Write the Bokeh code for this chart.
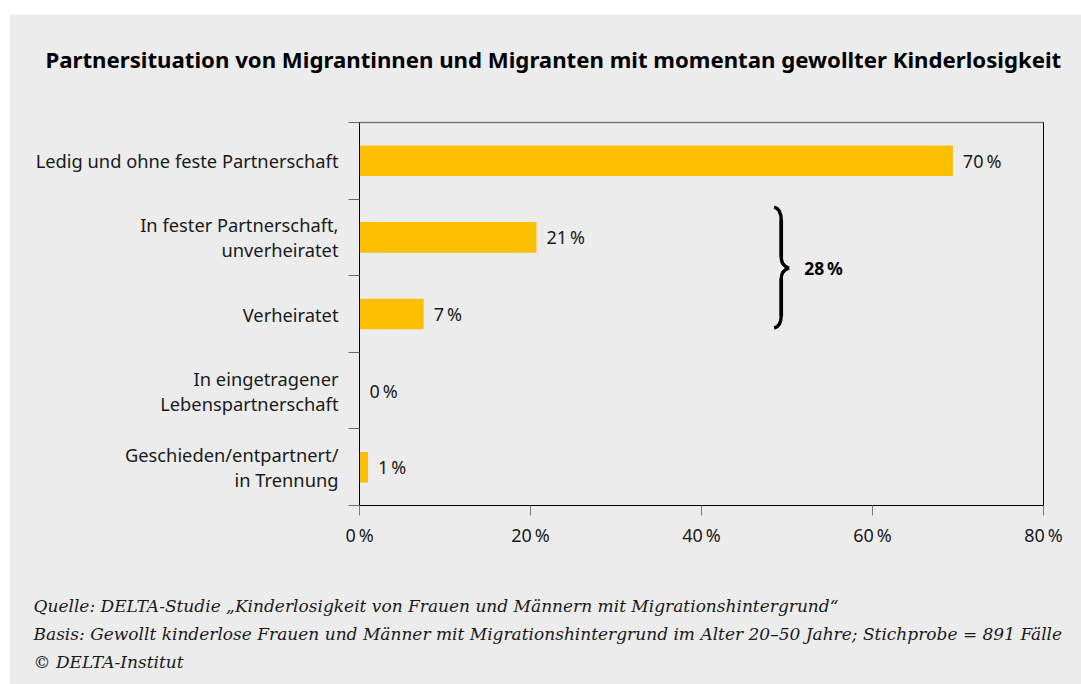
from bokeh.plotting import figure
from bokeh.models import (ColumnDataSource, Range1d, FixedTicker, LinearAxis,
                          LabelSet, Label, Spacer, Title)
from bokeh.layouts import column, row
from bokeh.core.properties import value
from bokeh.embed import file_html
from bokeh.resources import INLINE

# ---------------- data ----------------
categories = [
    "Ledig und ohne feste Partnerschaft",
    "In fester Partnerschaft,\nunverheiratet",
    "Verheiratet",
    "In eingetragener\nLebenspartnerschaft",
    "Geschieden/entpartnert/\nin Trennung",
]
values = [69.4, 20.7, 7.5, 0.0, 1.0]
value_labels = ["70\u202f%", "21\u202f%", "7\u202f%", "0\u202f%", "1\u202f%"]
x_ticks = [0, 20, 40, 60, 80]
x_tick_labels = ["0\u202f%", "20\u202f%", "40\u202f%", "60\u202f%", "80\u202f%"]
group_rows = [1, 2]          # rows joined by the brace
group_label = "28\u202f%"
title_text = "Partnersituation von Migrantinnen und Migranten mit momentan gewollter Kinderlosigkeit"
footer_lines = [
    "Quelle: DELTA-Studie \u201eKinderlosigkeit von Frauen und M\u00e4nnern mit Migrationshintergrund\u201c",
    "Basis: Gewollt kinderlose Frauen und M\u00e4nner mit Migrationshintergrund im Alter 20\u201350 Jahre; Stichprobe = 891 F\u00e4lle",
    "\u00a9 DELTA-Institut",
]

# ---------------- style ----------------
BG = "#ececec"
BAR = "#fbbe00"
TXT = "#1a1a1a"
SANS = "Noto Sans"
SERIF = "DejaVu Serif"

n = len(categories)
rows = [i + 0.5 for i in range(n)]
bounds = list(range(n + 1))
src = ColumnDataSource(dict(y=rows, v=values, vl=value_labels))

W, H = 1072, 670
p = figure(width=W, height=H, output_backend="svg", toolbar_location=None,
           x_range=Range1d(0, 80), y_range=Range1d(n, 0),
           min_border_left=350, min_border_right=38,
           min_border_top=108, min_border_bottom=179)
p.background_fill_color = BG
p.border_fill_color = BG
p.outline_line_color = None
p.grid.visible = False

# bottom axis
xa = p.xaxis[0]
xa.ticker = FixedTicker(ticks=x_ticks)
xa.major_label_overrides = {t: l for t, l in zip(x_ticks, x_tick_labels)}
xa.major_tick_out = 10
xa.major_tick_in = 0
xa.minor_tick_line_color = None
xa.major_tick_line_color = "#7a7a7a"
xa.axis_line_color = "black"
xa.major_label_text_font = SANS
xa.major_label_text_font_size = "18px"
xa.major_label_text_color = TXT
xa.major_label_standoff = 7

# left axis: labels at row centres, ticks at row boundaries (minor ticks)
ya = p.yaxis[0]
ya.ticker = FixedTicker(ticks=rows, minor_ticks=bounds)
ya.major_label_overrides = {r: c for r, c in zip(rows, categories)}
ya.major_tick_line_color = None
ya.major_tick_out = 0
ya.major_tick_in = 0
ya.minor_tick_out = 11
ya.minor_tick_in = 0
ya.minor_tick_line_color = "#6a6a6a"
ya.axis_line_color = "black"
ya.major_label_standoff = 10
ya.major_label_text_font = SANS
ya.major_label_text_font_size = "18.3px"
ya.major_label_text_color = TXT
ya.major_label_text_line_height = 1.0

# top (gray) frame line; an invisible minor tick reserves room under the title
top = LinearAxis(ticker=FixedTicker(ticks=[], minor_ticks=[40]),
                 major_label_text_font_size="0px",
                 major_tick_line_color=None, minor_tick_line_color=BG,
                 major_tick_out=0, minor_tick_out=46, minor_tick_in=-4,
                 axis_line_color="#777777", axis_line_width=1.5)
p.add_layout(top, "above")
right = LinearAxis(ticker=FixedTicker(ticks=[]), major_label_text_font_size="0px",
                   major_tick_line_color=None, minor_tick_line_color=None,
                   axis_line_color="black")
p.add_layout(right, "right")

# bars
p.hbar(y="y", left=0, right="v", height=0.4, source=src, color=BAR, line_color=None)

# value labels
p.add_layout(LabelSet(x="v", y="y", text="vl", source=src, x_offset=10,
                      text_align="left", text_baseline="middle",
                      text_font=value(SANS), text_font_size="18px", text_color=TXT))

# brace for grouped rows
px_x = 80 / 684.0
px_y = n / 383.0
bx0 = 48.5                      # brace left (data x)
yc = sum(rows[r] for r in group_rows) / len(group_rows) - 0.1
def X(dpx):
    return bx0 + dpx * px_x
def Y(dpy):
    return yc + dpy * px_y
brace = dict(line_color="black", line_width=3.4)
p.bezier(x0=[X(0), X(7), X(15), X(7)], y0=[Y(-61), Y(-11), Y(0), Y(48)],
         x1=[X(7), X(15), X(7), X(0)], y1=[Y(-48), Y(0), Y(11), Y(60)],
         cx0=[X(4), X(7), X(11), X(7)], cy0=[Y(-60), Y(-4), Y(1), Y(56)],
         cx1=[X(7), X(11), X(7), X(4)], cy1=[Y(-56), Y(-1), Y(4), Y(59)], **brace)
p.segment(x0=[X(7), X(7)], y0=[Y(-48), Y(11)], x1=[X(7), X(7)], y1=[Y(-11), Y(48)],
          line_color="black", line_width=3.8)
p.add_layout(Label(x=X(15), y=yc, text=group_label, x_offset=15,
                   text_align="left", text_baseline="middle",
                   text_font=SANS, text_font_size="17.5px", text_font_style="bold",
                   text_color="black"))

# title (above)
p.add_layout(Title(text=title_text, align="left", offset=-314, standoff=0,
                   vertical_align="top",
                   text_font=SANS, text_font_size="22.2px", text_font_style="bold",
                   text_color="black"), "above")

# gap below the x axis (invisible minor tick), then footer lines
gap = LinearAxis(ticker=FixedTicker(ticks=[], minor_ticks=[40]),
                 major_label_text_font_size="0px",
                 major_tick_line_color=None, minor_tick_line_color=BG,
                 major_tick_out=0, minor_tick_out=44, minor_tick_in=0,
                 axis_line_color=None)
p.add_layout(gap, "below")
for i, line in enumerate(footer_lines):
    p.add_layout(Title(text=line, align="left", offset=-326,
                       standoff=5.5, vertical_align="top",
                       text_font=SERIF, text_font_size="17px",
                       text_font_style="italic", text_color=TXT), "below")

layout = row(Spacer(width=9, height=H), column(Spacer(width=W, height=14), p))
open("out.html", "w").write(file_html(layout, INLINE))
